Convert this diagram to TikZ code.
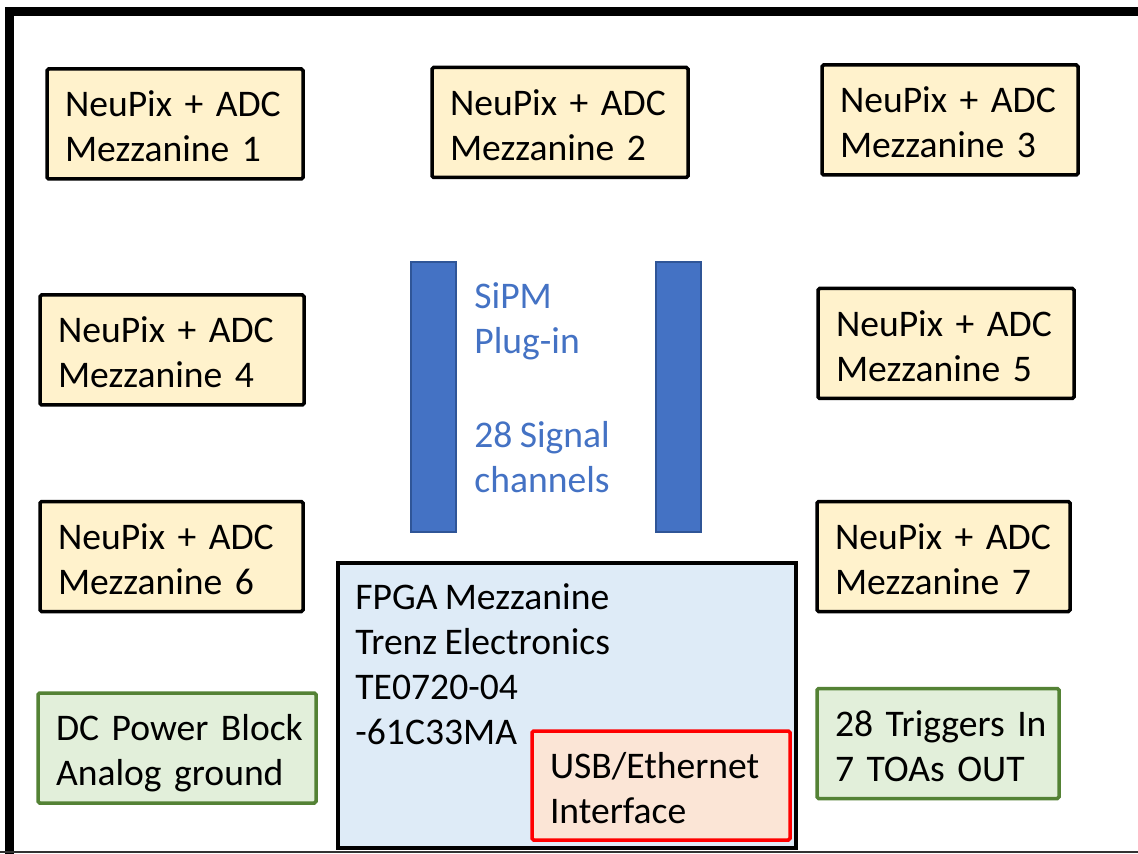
\documentclass[tikz,border=0pt]{standalone}
\usepackage{fontspec}
\setmainfont{Carlito}[WordSpace=0.85]
\definecolor{yel}{HTML}{FFF2CC}
\definecolor{grfill}{HTML}{E2EFDA}
\definecolor{grline}{HTML}{548235}
\definecolor{bluefill}{HTML}{DEEBF7}
\definecolor{usbfill}{HTML}{FBE5D6}
\definecolor{barblue}{HTML}{4472C4}
\definecolor{bardark}{HTML}{2F5597}
\newcommand{\lines}[1]{\raisebox{-3.2pt}[\height][\depth]{\begin{tabular}{@{}l@{}}#1\end{tabular}}}
\tikzset{
  box/.style={draw, line width=1.75pt, rounded corners=0.8pt, align=left, inner xsep=9pt, inner ysep=0pt,
    font=\fontsize{18.8}{22.5}\selectfont},
  mezz/.style={box, fill=yel, minimum height=55pt},
  greenbox/.style={box, draw=grline, fill=grfill, minimum height=55pt},
  usbbox/.style={box, draw=red, fill=usbfill, minimum height=54.5pt},
  bar/.style={draw=bardark, line width=0.6pt, fill=barblue, minimum width=22.5pt, minimum height=135pt, inner sep=0pt},
  plain/.style={inner sep=0pt, align=left, font=\fontsize{18.8}{22.5}\selectfont},
}
\begin{document}
\begin{tikzpicture}[x=0.5pt,y=-0.5pt]
\useasboundingbox (0,0) rectangle (1138,854);
\fill[white] (0,0) rectangle (1138,854);
% frame
\coordinate (fbl) at (9,856);
\coordinate (ftl) at (9,11.5);
\coordinate (ftr) at (1142,11.5);
\coordinate (bl) at (0,852);
\coordinate (br) at (1138,852);
\draw[line width=4.5pt] (fbl) -- (ftl) -- (ftr);
\draw[line width=1pt, black!80] (bl) -- (br);
% mezzanines
\node[mezz, text width=110pt] (m1) at (175,124) {\lines{NeuPix + ADC\\Mezzanine 1}};
\node[mezz, text width=110pt] (m2) at (560,122.5) {\lines{NeuPix + ADC\\Mezzanine 2}};
\node[mezz, text width=110pt] (m3) at (950,120) {\lines{NeuPix + ADC\\Mezzanine 3}};
\node[mezz, text width=114pt] (m4) at (172,350) {\lines{NeuPix + ADC\\Mezzanine 4}};
\node[mezz, text width=110pt] (m5) at (946,343.5) {\lines{NeuPix + ADC\\Mezzanine 5}};
\node[mezz, text width=113.5pt] (m6) at (171.5,556.5) {\lines{NeuPix + ADC\\Mezzanine 6}};
\node[mezz, text width=108.5pt] (m7) at (943.5,556.5) {\lines{NeuPix + ADC\\Mezzanine 7}};
% green boxes
\node[greenbox, text width=121pt] (dc) at (177,748) {\lines{DC Power Block\\Analog ground}};
\node[greenbox, text width=103pt] (trig) at (938,743.5) {\lines{28 Triggers In\\7 TOAs OUT}};
% bars
\node[bar] (barl) at (433.5,397) {};
\node[bar] (barr) at (678.5,397) {};
\node[plain, anchor=west, text=barblue] (sipm) at (474,387.5)
  {SiPM\\Plug-in\\[24.5pt]28 Signal\\channels};
% FPGA
\node[draw, line width=1.75pt, fill=bluefill, minimum width=229pt, minimum height=142.5pt, inner sep=0pt] (fpga) at (567,705.5) {};
\node[plain, anchor=north west] (fpgatxt) at (355,583)
  {FPGA Mezzanine\\Trenz Electronics\\TE0720-04\\-61C33MA};
\node[usbbox, text width=111pt] (usb) at (661,785.5) {\lines{USB/Ethernet\\Interface}};
\end{tikzpicture}
\end{document}
